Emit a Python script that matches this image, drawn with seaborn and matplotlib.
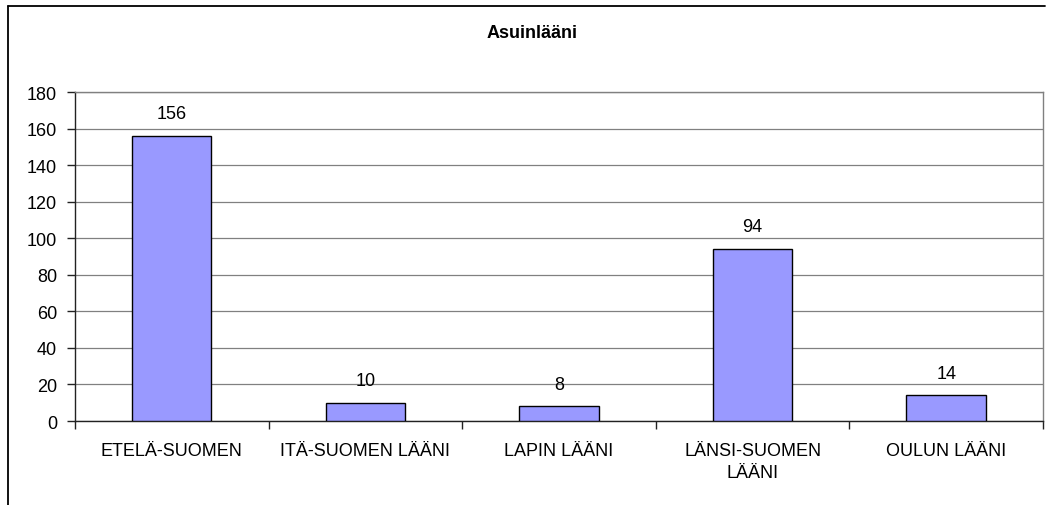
import matplotlib
matplotlib.use("Agg")
import matplotlib.pyplot as plt
import seaborn as sns
import pandas as pd
from matplotlib.lines import Line2D
from matplotlib.ticker import MultipleLocator, FixedLocator

categories = ["ETELÄ-SUOMEN", "ITÄ-SUOMEN LÄÄNI", "LAPIN LÄÄNI",
              "LÄNSI-SUOMEN\nLÄÄNI", "OULUN LÄÄNI"]
counts = [156, 10, 8, 94, 14]
title = "Asuinlääni"

sns.set_theme(style="white")
plt.rcParams["font.family"] = ["Liberation Sans", "DejaVu Sans"]

df = pd.DataFrame({"laani": categories, "n": counts})

fig = plt.figure(figsize=(10.5, 5.06), dpi=100)
ax = fig.add_axes([0.0714, 0.166, 0.9219, 0.6498])

sns.barplot(data=df, x="laani", y="n", color="#9999FF", width=0.41,
            edgecolor="black", linewidth=1.0, saturation=1, ax=ax, zorder=3)

ax.set_ylim(0, 180)
ax.set_xlim(-0.5, len(categories) - 0.5)
ax.yaxis.set_major_locator(MultipleLocator(20))
ax.grid(axis="y", color="#808080", linewidth=0.9, zorder=0)
ax.set_axisbelow(True)

for s in ["top", "right"]:
    ax.spines[s].set_color("#808080")
    ax.spines[s].set_linewidth(1.0)
for s in ["left", "bottom"]:
    ax.spines[s].set_color("#222222")
    ax.spines[s].set_linewidth(1.0)

ax.set_xlabel("")
ax.set_ylabel("")
ax.tick_params(axis="y", which="major", direction="out", length=6, width=1,
               color="#222222", left=True, labelsize=13, pad=7,
               labelcolor="black")
ax.tick_params(axis="x", which="major", length=0, labelsize=13, pad=15,
               labelcolor="black")
ax.xaxis.set_minor_locator(FixedLocator([i - 0.5 for i in range(len(categories) + 1)]))
ax.tick_params(axis="x", which="minor", direction="out", length=6, width=1,
               color="#222222", bottom=True)
for lbl in ax.get_xticklabels():
    lbl.set_verticalalignment("top")
    lbl.set_multialignment("center")
    lbl.set_linespacing(1.4)

for i, v in enumerate(counts):
    ax.annotate(str(v), (i, v), xytext=(0, 10), textcoords="offset points",
                ha="center", va="bottom", fontsize=13, color="black")

fig.text(532 / 1050, 1 - 33 / 506, title, ha="center", va="center",
         fontsize=13, fontweight="bold", color="black")

# outer chart frame: top and left edges
fig.add_artist(Line2D([8 / 1050, 1045 / 1050], [1 - 7 / 506, 1 - 7 / 506],
                      transform=fig.transFigure, color="black", linewidth=1.3))
fig.add_artist(Line2D([8 / 1050, 8 / 1050], [1 - 7 / 506, 0],
                      transform=fig.transFigure, color="black", linewidth=1.3))

fig.savefig("out.png", dpi=100)
